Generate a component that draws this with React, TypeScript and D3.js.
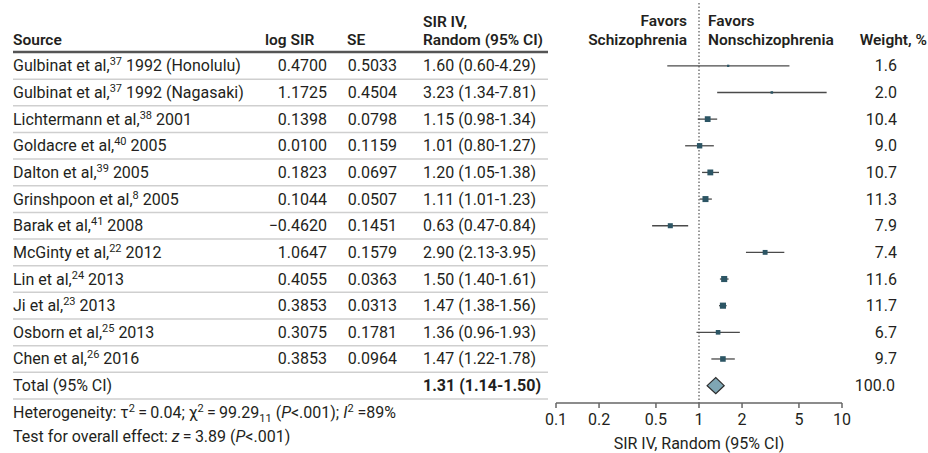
import React from 'react';
import * as d3 from 'd3';

// study rows
const authors = ['Gulbinat et al,', 'Gulbinat et al,', 'Lichtermann et al,', 'Goldacre et al,', 'Dalton et al,', 'Grinshpoon et al,', 'Barak et al,', 'McGinty et al,', 'Lin et al,', 'Ji et al,', 'Osborn et al,', 'Chen et al,'];
const refs = ['37', '37', '38', '40', '39', '8', '41', '22', '24', '23', '25', '26'];
const years = ['1992 (Honolulu)', '1992 (Nagasaki)', '2001', '2005', '2005', '2005', '2008', '2012', '2013', '2013', '2013', '2016'];
const logSir = [0.47, 1.1725, 0.1398, 0.01, 0.1823, 0.1044, -0.462, 1.0647, 0.4055, 0.3853, 0.3075, 0.3853];
const se = [0.5033, 0.4504, 0.0798, 0.1159, 0.0697, 0.0507, 0.1451, 0.1579, 0.0363, 0.0313, 0.1781, 0.0964];
const sir = [1.6, 3.23, 1.15, 1.01, 1.2, 1.11, 0.63, 2.9, 1.5, 1.47, 1.36, 1.47];
const lower = [0.6, 1.34, 0.98, 0.8, 1.05, 1.01, 0.47, 2.13, 1.4, 1.38, 0.96, 1.22];
const upper = [4.29, 7.81, 1.34, 1.27, 1.38, 1.23, 0.84, 3.95, 1.61, 1.56, 1.93, 1.78];
const weight = [1.6, 2.0, 10.4, 9.0, 10.7, 11.3, 7.9, 7.4, 11.6, 11.7, 6.7, 9.7];

const totalSir = 1.31;
const totalLower = 1.14;
const totalUpper = 1.5;
const totalWeight = 100.0;

const tickValues = [0.1, 0.2, 0.5, 1, 2, 5, 10];

const W = 928;
const H = 453;
const FONT = 'Roboto, sans-serif';
const FS = 16;
const SUP = 11;
const TXT = '#231f20';

export default function App() {
  const x = d3.scaleLog().domain([0.1, 10]).range([556, 842]);
  const rows = d3.range(authors.length + 1);
  const y = d3.scaleBand<number>().domain(rows).range([52.5, 52.5 + 26.65 * rows.length]);
  const cy = (i: number) => (y(i) as number) + y.bandwidth() / 2;
  const size = d3.scaleSqrt().domain([0, 12]).range([0, 6.2]);
  const f4 = d3.format('.4f');
  const f2 = d3.format('.2f');
  const f1 = d3.format('.1f');
  const axisY = 403;
  const totalI = authors.length;

  const ci = (s: number, l: number, u: number) => `${f2(s)} (${f2(l)}-${f2(u)})`;

  return (
    <svg width={W} height={H} style={{ position: 'absolute', left: 0, top: 0, background: '#fff' }}
      fontFamily={FONT} fontSize={FS} fill={TXT}>
      {/* header */}
      <g fontWeight={600} fontSize={15.5}>
        <text x={13} y={45}>Source</text>
        <text x={265} y={45}>log SIR</text>
        <text x={347} y={45}>SE</text>
        <text x={423} y={27}>SIR IV,</text>
        <text x={423} y={45}>Random (95% CI)</text>
        <text x={687} y={26} textAnchor="end">Favors</text>
        <text x={687} y={45} textAnchor="end">Schizophrenia</text>
        <text x={708} y={26}>Favors</text>
        <text x={708} y={45}>Nonschizophrenia</text>
        <text x={927} y={45} textAnchor="end">Weight, %</text>
      </g>
      <line x1={13} x2={548} y1={52} y2={52} stroke="#555" strokeWidth={2.5} />

      {/* separators */}
      {rows.map(i => (
        <line key={'s' + i} x1={13} x2={548} y1={(y(i) as number) + y.bandwidth()} y2={(y(i) as number) + y.bandwidth()}
          stroke="#cfcfcf" strokeWidth={1.5} />
      ))}

      {/* study rows */}
      {authors.map((a, i) => (
        <g key={'r' + i}>
          <text x={13} y={cy(i) + 5.5}>
            {a}
            <tspan dy={-6} fontSize={SUP}>{refs[i]}</tspan>
            <tspan dy={6} fontSize={FS}>{' ' + years[i]}</tspan>
          </text>
          <text x={327} y={cy(i) + 5.5} textAnchor="end">{f4(logSir[i])}</text>
          <text x={397} y={cy(i) + 5.5} textAnchor="end">{f4(se[i])}</text>
          <text x={423} y={cy(i) + 5.5}>{ci(sir[i], lower[i], upper[i])}</text>
          <text x={897} y={cy(i) + 5.5} textAnchor="end">{f1(weight[i])}</text>
        </g>
      ))}

      {/* total row */}
      <text x={13} y={cy(totalI) + 5.5}>Total (95% CI)</text>
      <text x={423} y={cy(totalI) + 5.5} fontWeight={700}>{ci(totalSir, totalLower, totalUpper)}</text>
      <text x={895} y={cy(totalI) + 5.5} textAnchor="end">{f1(totalWeight)}</text>

      {/* footer */}
      <text x={13} y={418}>
        Heterogeneity: τ<tspan dy={-6} fontSize={SUP}>2</tspan>
        <tspan dy={6}>{'\u2009=\u20090.04; χ'}</tspan>
        <tspan dy={-6} fontSize={SUP}>2</tspan>
        <tspan dy={6}>{'\u2009=\u200999.29'}</tspan>
        <tspan dy={4} fontSize={SUP}>11</tspan>
        <tspan dy={-4}>{' ('}</tspan>
        <tspan fontStyle="italic">P</tspan>
        <tspan>{'<.001); '}</tspan>
        <tspan fontStyle="italic">I</tspan>
        <tspan dy={-6} fontSize={SUP}>2</tspan>
        <tspan dy={6}>{' =89%'}</tspan>
      </text>
      <text x={13} y={442}>
        {'Test for overall effect: '}
        <tspan fontStyle="italic">z</tspan>
        <tspan>{'\u2009=\u20093.89 ('}</tspan>
        <tspan fontStyle="italic">P</tspan>
        <tspan>{'<.001)'}</tspan>
      </text>

      {/* reference line at 1 */}
      <line x1={x(1)} x2={x(1)} y1={3} y2={axisY} stroke="#333" strokeWidth={1} strokeDasharray="1.5,2" />

      {/* CIs and squares */}
      {authors.map((_, i) => {
        const s = size(weight[i]);
        return (
          <g key={'m' + i}>
            <line x1={x(lower[i])} x2={x(upper[i])} y1={cy(i)} y2={cy(i)} stroke="#4a4a4a" strokeWidth={1.3} />
            <rect x={x(sir[i]) - s / 2} y={cy(i) - s / 2} width={s} height={s} fill="#2c5564" />
          </g>
        );
      })}

      {/* pooled diamond */}
      <path
        d={`M${x(totalLower)},${cy(totalI)} L${x(totalSir)},${cy(totalI) - 8} L${x(totalUpper)},${cy(totalI)} L${x(totalSir)},${cy(totalI) + 8} Z`}
        fill="#7fa6b4" stroke="#2b2b2b" strokeWidth={1.2} />

      {/* axis */}
      <line x1={x(0.1)} x2={x(10)} y1={axisY} y2={axisY} stroke="#666" strokeWidth={1.5} />
      {tickValues.map(t => (
        <g key={'t' + t}>
          <line x1={x(t)} x2={x(t)} y1={axisY} y2={axisY + 5} stroke="#666" strokeWidth={1.5} />
          <text x={x(t)} y={axisY + 22} textAnchor="middle">{String(t)}</text>
        </g>
      ))}
      <text x={x(1)} y={449} textAnchor="middle">SIR IV, Random (95% CI)</text>
    </svg>
  );
}
